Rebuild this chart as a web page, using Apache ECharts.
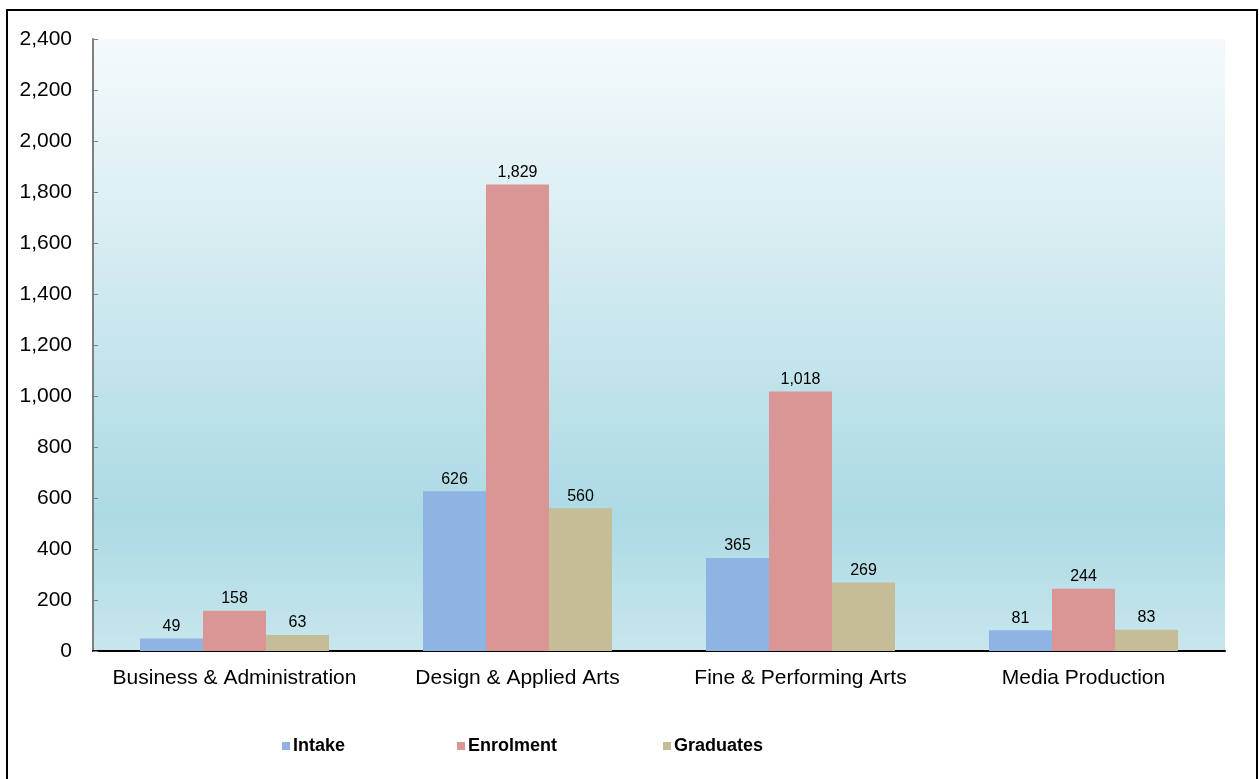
<!DOCTYPE html>
<html>
<head>
<meta charset="utf-8">
<script src="https://cdn.jsdelivr.net/npm/echarts@6/dist/echarts.min.js"></script>
<style>
html,body{margin:0;padding:0;background:#fff;}
#chart{width:1259px;height:779px;}
</style>
</head>
<body>
<div id="chart"></div>
<script>
const categories = ['Business & Administration', 'Design & Applied Arts', 'Fine & Performing Arts', 'Media Production'];
const intake = [49, 626, 365, 81];
const enrolment = [158, 1829, 1018, 244];
const graduates = [63, 560, 269, 83];
const seriesNames = ['Intake', 'Enrolment', 'Graduates'];
const seriesColors = ['#8eb4e3', '#d99694', '#c4bd97'];

const chart = echarts.init(document.getElementById('chart'), null, {renderer: 'canvas'});
const font = 'Arial, "Liberation Sans", sans-serif';
const fmt = v => v.toLocaleString('en-US');

function mk(name, data, color) {
  return {
    name: name, type: 'bar', data: data, barWidth: 63, barGap: '0%',
    itemStyle: {color: color},
    label: {show: true, position: 'top', distance: 4, fontSize: 16, color: '#000', fontFamily: font,
      formatter: p => fmt(p.value)},
    emphasis: {disabled: true}
  };
}
const legendLefts = [282, 457, 663];
chart.setOption({
  animation: false,
  backgroundColor: '#fff',
  graphic: [{type: 'rect', shape: {x: 7, y: 10, width: 1250, height: 800}, style: {fill: 'none', stroke: '#000', lineWidth: 2}, z: 100}],
  grid: {left: 93, top: 39, right: 34, bottom: 128, show: true, borderWidth: 0,
    backgroundColor: {type: 'linear', x: 0, y: 0, x2: 0, y2: 1, colorStops: [
      {offset: 0, color: '#f5fafc'},
      {offset: 0.78, color: '#acdae4'},
      {offset: 1, color: '#c8e6ed'}]}},
  legend: seriesNames.map((n, i) => ({
    data: [n], left: legendLefts[i], top: 737, padding: 0, itemWidth: 8, itemHeight: 8, icon: 'rect', itemGap: 0,
    textStyle: {fontSize: 18, fontWeight: 'bold', color: '#000', fontFamily: '"Liberation Sans Narrow", "Arial Narrow", Arial, sans-serif', padding: [0, 0, 0, -2]},
    selectedMode: false
  })),
  xAxis: {
    type: 'category', data: categories,
    axisLine: {lineStyle: {color: '#000', width: 2}},
    axisTick: {inside: true, length: 6, lineStyle: {color: '#000', width: 1}},
    axisLabel: {interval: 0, fontSize: 21, color: '#000', fontFamily: font, margin: 17}
  },
  yAxis: {
    type: 'value', min: 0, max: 2400, interval: 200,
    axisLine: {show: true, lineStyle: {color: '#7f7f7f', width: 2}},
    axisTick: {show: true, inside: true, length: 5, lineStyle: {color: '#7f7f7f'}},
    splitLine: {show: false},
    axisLabel: {fontSize: 21, color: '#000', fontFamily: font, margin: 21, formatter: v => fmt(v)}
  },
  series: [mk(seriesNames[0], intake, seriesColors[0]), mk(seriesNames[1], enrolment, seriesColors[1]), mk(seriesNames[2], graduates, seriesColors[2])]
});
</script>
</body>
</html>
